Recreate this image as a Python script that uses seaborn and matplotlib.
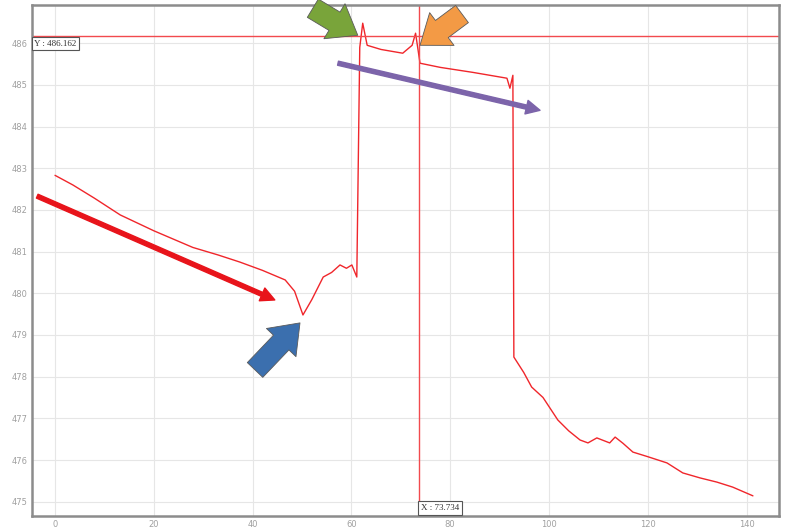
import numpy as np
import pandas as pd
import matplotlib.pyplot as plt
import seaborn as sns

# signal trace
time_s = [0, 3.6, 8, 13.2, 20, 27.9, 33, 37.4, 42, 46.6, 48.5, 50.2, 52, 54.3, 56, 57.7, 59, 60.1, 61.1,
          61.7, 62.3, 63.2, 66, 70.4, 72.3, 73.0, 73.9, 78, 84.6, 91.5, 92.1, 92.7,
          92.9, 94.9, 96.5, 98.8, 101.8, 104, 106.3, 107.9, 109.7, 112.3, 113.4, 115, 117,
          120, 123.9, 127.1, 130.6, 134, 137.2, 141.3]
value = [482.83, 482.6, 482.28, 481.88, 481.5, 481.1, 480.92, 480.75, 480.55, 480.32, 480.05, 479.48,
         479.85, 480.39, 480.5, 480.68, 480.6, 480.68, 480.39,
         485.9, 486.48, 485.95, 485.85, 485.76, 485.95, 486.24, 485.52, 485.42, 485.3, 485.16, 484.92, 485.23,
         478.47, 478.1, 477.75, 477.5, 476.96, 476.7, 476.48, 476.41, 476.53, 476.41, 476.55, 476.4, 476.19,
         476.08, 475.93, 475.69, 475.57, 475.47, 475.35, 475.14]

x_ticks = [0, 20, 40, 60, 80, 100, 120, 140]
y_ticks = [475, 476, 477, 478, 479, 480, 481, 482, 483, 484, 485, 486]
cursor_x = 73.734
cursor_y = 486.162

# annotation arrows: (tail, head, colour, kind)
arrows = [
    ((-3.6, 482.33), (44.5, 479.84), '#e8141b', 'thin'),
    ((40.5, 478.16), (49.6, 479.29), '#3b6fae', 'block'),
    ((52.2, 486.84), (61.3, 486.19), '#79a43a', 'block'),
    ((82.4, 486.70), (73.9, 485.95), '#f39a45', 'block'),
    ((57.3, 485.52), (98.2, 484.39), '#7c64aa', 'thin'),
]

df = pd.DataFrame({'t': time_s, 'v': value})

sns.set_style('white')
fig = plt.figure(figsize=(7.95, 5.28), dpi=100)
ax = fig.add_axes([0.040, 0.023, 0.940, 0.967])

sns.lineplot(data=df, x='t', y='v', color='#f0262b', linewidth=1.0, ax=ax)

ax.set_xlim(-4.7, 146.6)
ax.set_ylim(474.66, 486.91)
ax.set_xticks(x_ticks)
ax.set_yticks(y_ticks)
ax.set_xlabel('')
ax.set_ylabel('')
ax.grid(True, color='#e6e6e6', linewidth=0.8)
ax.tick_params(axis='both', labelsize=6, colors='#a0a0a0', length=0, pad=3)
for sp in ax.spines.values():
    sp.set_color('#8c8c8c')
    sp.set_linewidth(1.8)

# cursor crosshair
ax.axhline(cursor_y, color='#f24a4e', linewidth=1.0)
ax.axvline(cursor_x, color='#f24a4e', linewidth=1.0)
box = dict(boxstyle='square,pad=0.3', facecolor='white', edgecolor='#555555', linewidth=0.8)
ax.text(-4.2, cursor_y - 0.08, f'Y : {cursor_y:.3f}', fontsize=6.5, va='top', ha='left',
        color='#333333', bbox=box, family='Liberation Serif')
ax.text(cursor_x + 0.4, 474.75, f'X : {cursor_x:.3f}', fontsize=6.5, va='bottom', ha='left',
        color='#333333', bbox=box, family='Liberation Serif')

for tail, head, col, kind in arrows:
    if kind == 'thin':
        style = 'simple,head_width=1.0,head_length=1.0,tail_width=0.3'
        ax.annotate('', xy=head, xytext=tail,
                    arrowprops=dict(arrowstyle=style, color=col, shrinkA=0, shrinkB=0))
    else:
        style = 'simple,head_width=2.1,head_length=1.4,tail_width=1.1'
        ax.annotate('', xy=head, xytext=tail,
                    arrowprops=dict(arrowstyle=style, facecolor=col, edgecolor='#5a5a5a',
                                    linewidth=0.6, shrinkA=0, shrinkB=0, mutation_scale=14))

fig.savefig('out.png', dpi=100)
